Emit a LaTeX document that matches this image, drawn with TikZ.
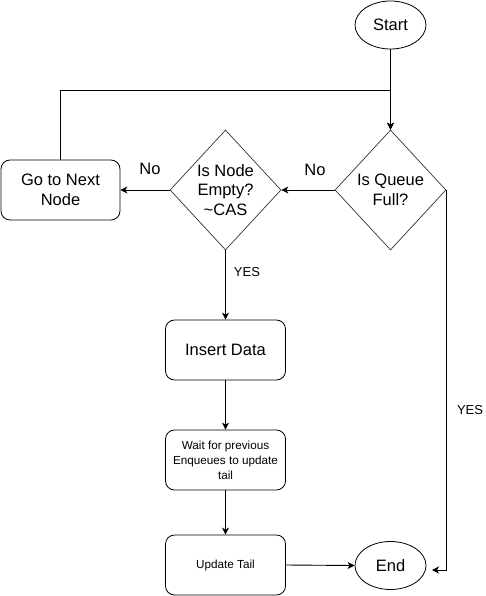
\documentclass[tikz,border=0pt]{standalone}
\usepackage{fontspec}
\setmainfont{Liberation Sans}
\usetikzlibrary{shapes.geometric,arrows.meta}
\begin{document}
\begin{tikzpicture}[x=1pt,y=-1pt,
  every node/.style={font=\fontsize{16.5}{19.5}\selectfont, inner sep=0pt},
  term/.style={draw, ellipse, minimum width=71pt, minimum height=48pt, line width=0.8pt},
  proc/.style={draw, rounded corners=9pt, minimum width=120pt, minimum height=60pt, align=center, line width=0.8pt},
  smallproc/.style={proc, font=\fontsize{11.7}{15}\selectfont},
  decision/.style={draw=black!80, diamond, minimum width=111pt, minimum height=120pt, line width=0.7pt},
  dtext/.style={align=center},
  lbl/.style={font=\fontsize{16.5}{19.5}\selectfont},
  ylbl/.style={font=\fontsize{13}{15}\selectfont},
  conn/.style={draw, line width=0.9pt, -{Stealth[length=7pt,width=7pt,inset=2pt]}},
  plain/.style={draw, line width=0.9pt}
]
\useasboundingbox (0,0) rectangle (485,596);
\node[term] (s) at (390.5,25) {Start};
\node[decision] (q) at (390.5,190) {};
\node[dtext] (qt) at (q) {Is Queue\\Full?};
\node[decision] (n) at (225.5,190) {};
\node[dtext] (nt) at (n) {Is Node\\Empty?\\\textasciitilde CAS};
\node[proc, minimum width=119pt] (g) at (60.5,190) {Go to Next\\Node};
\node[proc] (i) at (225.5,350) {Insert Data};
\node[smallproc] (w) at (225.5,460) {Wait for previous\\Enqueues to update\\tail};
\node[smallproc] (u) at (225.5,565) {Update Tail};
\node[term] (e) at (390.5,565.5) {End};

\coordinate (m) at (390.5,90);
\coordinate (yend) at (432,570);

\draw[conn] (s) -- (q.north);
\draw[conn] (g.north) |- (m) -- (q.north);
\draw[conn] (q.west) -- (n.east);
\draw[conn] (n.west) -- (g.east);
\draw[conn] (n.south) -- (i.north);
\draw[conn] (i) -- (w);
\draw[conn] (w) -- (u);
\draw[conn] (u.east) -- (e.west);
\draw[conn] (q.east) -- (q.east |- yend) -- (yend);

\node[lbl] (no1) at (315,170) {No};
\node[lbl] (no2) at (150,169) {No};
\node[ylbl] (yes1) at (247,272) {YES};
\node[ylbl] (yes2) at (470,410) {YES};
\end{tikzpicture}
\end{document}
